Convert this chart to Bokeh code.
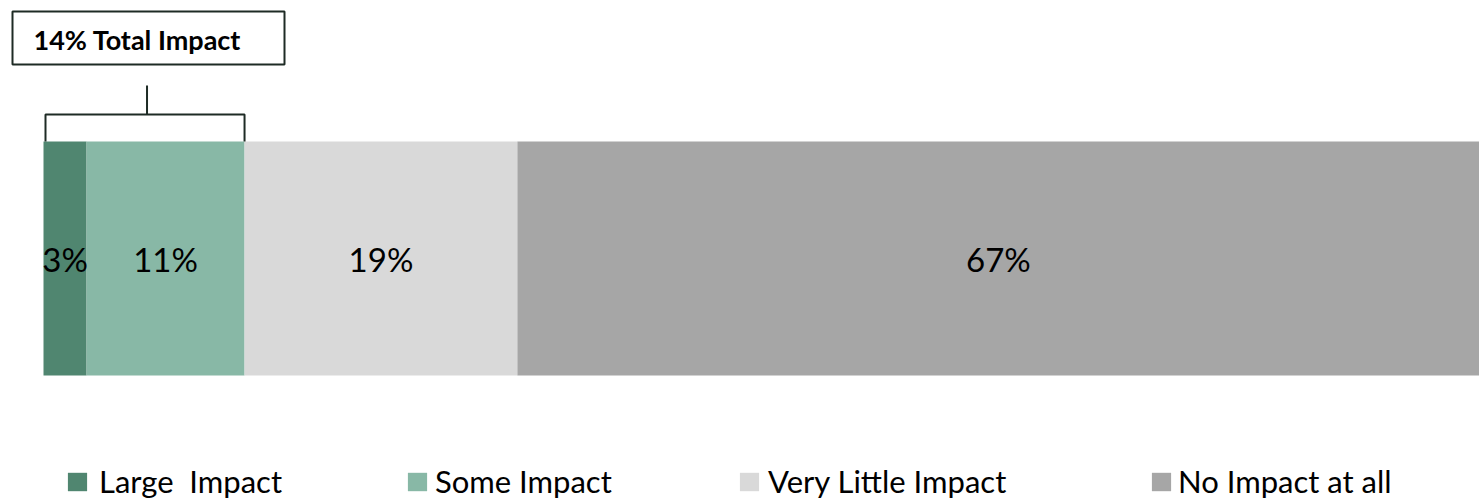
from bokeh.plotting import figure
from bokeh.models import Range1d, Legend, LegendItem, ColumnDataSource
from bokeh.embed import file_html
from bokeh.resources import INLINE
from bokeh.core.properties import value

# Survey shares, in percent
categories = ["Large  Impact", "Some Impact", "Very Little Impact", "No Impact at all"]
shares = [3, 11, 19, 67]
colors = ["#508670", "#88B8A6", "#D9D9D9", "#A6A6A6"]
labels = ["3%", "11%", "19%", "67%"]

FONT = "Lato"
W, H = 1479, 502
LEFT_PAD = 43  # pixels left of the bar start
px = 100.0 / (W - LEFT_PAD)  # data units per pixel

p = figure(width=W, height=H, output_backend="svg", toolbar_location=None,
           x_range=Range1d(-LEFT_PAD * px, 100), y_range=Range1d(H, 0),
           x_axis_location=None, y_axis_location=None,
           min_border=0, min_border_left=0, min_border_right=0,
           min_border_top=0, min_border_bottom=0)
p.outline_line_color = None
p.xgrid.visible = False
p.ygrid.visible = False
p.background_fill_color = "white"

# stacked bar segments
lefts, rights = [], []
acc = 0
for s in shares:
    lefts.append(acc)
    acc += s
    rights.append(acc)
mids = [(l + r) / 2 for l, r in zip(lefts, rights)]

BAR_Y, BAR_H = 258, 234
renderers = []
for i, cat in enumerate(categories):
    r = p.hbar(y=BAR_Y, left=lefts[i], right=rights[i], height=BAR_H,
               fill_color=colors[i], line_color=None)
    renderers.append(r)

src = ColumnDataSource(dict(x=mids, y=[BAR_Y] * len(mids), t=labels))
p.text(x="x", y="y", text="t", source=src, text_align="center",
       text_baseline="middle", text_font=value(FONT), text_font_size="33px",
       text_color="#000000")

# bracket over the first two segments
impact_total = shares[0] + shares[1]
br_left = lefts[0] + 2 * px
br_right = rights[1]
br_mid = (br_left + br_right) / 2 + 2 * px
top_bar = BAR_Y - BAR_H / 2
br_y = 114
line_kw = dict(line_color="#1E2B25", line_width=2)
p.multi_line(xs=[[br_left, br_left, br_right, br_right], [br_mid, br_mid]],
             ys=[[top_bar, br_y, br_y, top_bar], [br_y, 85]], **line_kw)

# callout box
box_l = (12 - LEFT_PAD) * px
box_r = (284 - LEFT_PAD) * px
p.quad(left=box_l, right=box_r, top=11, bottom=64, fill_color="white",
       line_color="#1E2B25", line_width=2)
p.text(x=[(33 - LEFT_PAD) * px], y=[39], text=[f"{impact_total}% Total Impact"],
       text_align="left", text_baseline="middle", text_font=value(FONT),
       text_font_size="27px", text_font_style="bold", text_color="#000000")

# legend: one entry per category, spread along the bottom
# (bar legend swatches are drawn inset by 10% of the glyph box)
legend_x = [65, 405, 737, 1149]
standoffs = [10, 6, 7, 5]
for i, cat in enumerate(categories):
    lg = Legend(items=[LegendItem(label=cat, renderers=[renderers[i]])],
                location=(legend_x[i], 2), orientation="horizontal",
                padding=0, margin=0, border_line_color=None,
                background_fill_alpha=0, glyph_width=24, glyph_height=23,
                label_standoff=standoffs[i], label_text_font=FONT,
                label_text_font_size="31px", label_text_color="#000000",
                label_height=20)
    p.add_layout(lg, "center")

open("out.html", "w").write(file_html(p, INLINE))
